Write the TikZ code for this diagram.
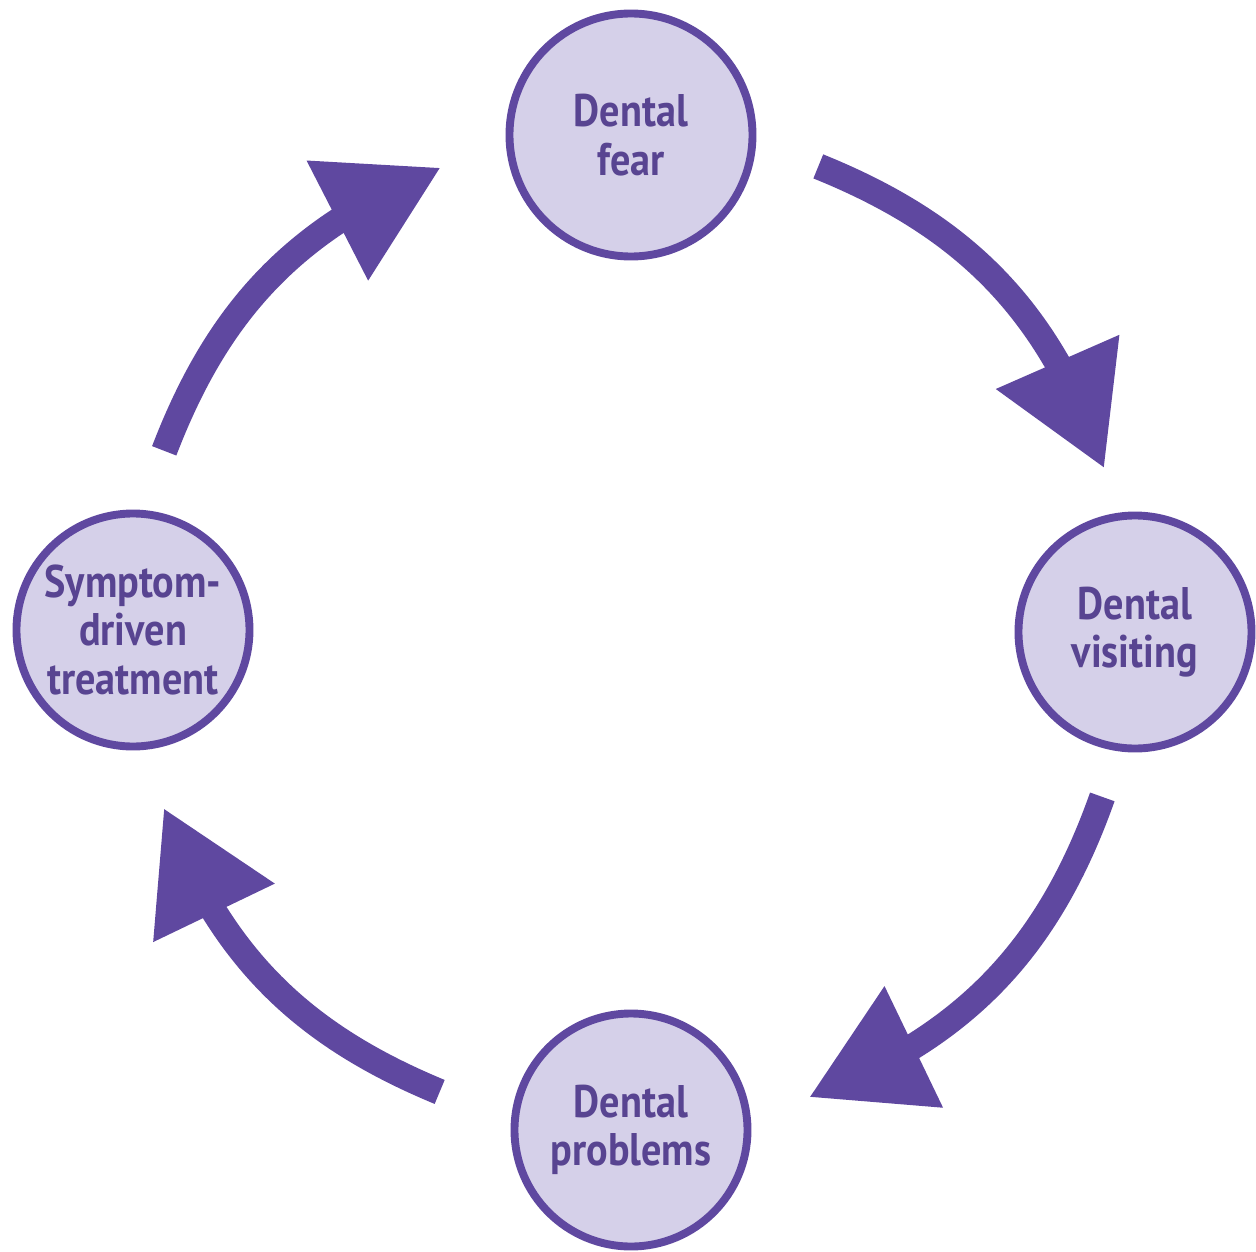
\documentclass[tikz,border=0pt]{standalone}
\usepackage{fontspec}
\setmainfont{PT Sans}[FakeStretch=0.88]
\usetikzlibrary{arrows.meta}
\usetikzlibrary{bending}
\usepackage{xcolor}
\definecolor{ringpurple}{RGB}{95,72,160}
\definecolor{ringfill}{RGB}{213,208,233}
\definecolor{labelpurple}{RGB}{88,68,145}

\begin{document}
\begin{tikzpicture}[
    stage/.style={
        circle,
        draw=ringpurple,
        fill=ringfill,
        line width=4.5pt,
        minimum size=4.66cm,  % outer ring about 240px
        inner sep=0pt,
        align=center,
        font=\fontsize{26}{27.5}\selectfont\bfseries,
        text=labelpurple
    },
    cyclearrow/.style={
        -{Triangle[length=2.3cm, width=2.7cm, line width=0pt]},
        draw=ringpurple,
        line width=0.52cm
    }
]
\useasboundingbox (-12.62,-12.42) rectangle (12.50,12.60);

% Define four stage nodes
\node[stage, minimum size=4.86cm] (fear) at (0,9.9) {Dental\\fear};
\node[stage] (visiting) at (10.08,-0.04) {Dental\\visiting};
\node[stage] (problems) at (0,-10.0) {Dental\\problems};
\node[stage] (treatment) at (-9.96,0) {Symptom-\\driven\\treatment};

% Free ends of the arrows, on the big circle
\coordinate (fear-out) at (68:10);
\coordinate (visiting-in) at (19:10);
\coordinate (visiting-out) at (-19.5:10);
\coordinate (problems-in) at (-69:10);
\coordinate (problems-out) at (-112.5:10);
\coordinate (treatment-in) at (-159:10);
\coordinate (treatment-out) at (159:10);
\coordinate (fear-in) at (112.5:10);

% Connect stages with curved arrows
\draw[cyclearrow] (fear-out) to[bend left=24.5] (visiting-in);
\draw[cyclearrow] (visiting-out) to[bend left=24.75] (problems-in);
\draw[cyclearrow] (problems-out) to[bend left=23.25] (treatment-in);
\draw[cyclearrow] (treatment-out) to[bend left=23.25] (fear-in);

\end{tikzpicture}
\end{document}
